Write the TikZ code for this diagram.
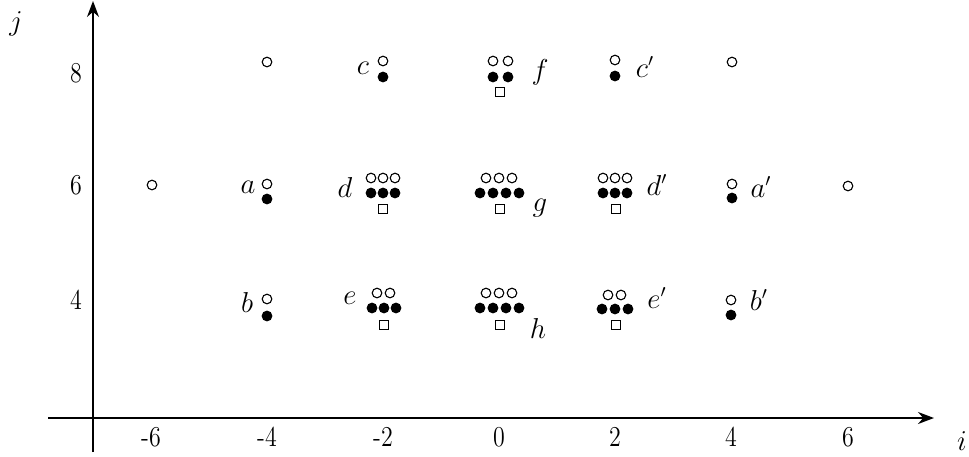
\documentclass[tikz,border=0pt]{standalone}
\usepackage{graphicx}
\usetikzlibrary{arrows.meta}
\newcommand{\tall}[1]{\scalebox{1}[1.2]{#1}}
\begin{document}
\begin{tikzpicture}[x=0.5pt,y=-0.5pt,font=\fontsize{12}{14}\selectfont,
  axis/.style={line width=0.8pt,-{Stealth[length=8pt,width=6pt]}},
  op/.style={circle,draw,line width=0.55pt,inner sep=0pt,minimum size=4.8pt},
  fu/.style={circle,fill,inner sep=0pt,minimum size=5.4pt},
  sq/.style={rectangle,draw,line width=0.55pt,inner sep=0pt,minimum size=4.9pt},
  lab/.style={inner sep=0pt},
  let/.style={inner sep=0pt,font=\fontsize{13.5}{15}\selectfont}]
\useasboundingbox (0,0) rectangle (969,456);
% axes
\coordinate (xs) at (48,418); \coordinate (xe) at (934,418);
\coordinate (ys) at (93,452); \coordinate (ye) at (93,1);
\draw[axis] (xs) -- (xe);
\draw[axis] (ys) -- (ye);
\node[let] (li) at (962,441) {$i$};
\node[let] (lj) at (16,24) {$j$};
% tick labels
\node[lab] (tm6) at (151,437) {\tall{-6}};
\node[lab] (tm4) at (267,437) {\tall{-4}};
\node[lab] (tm2) at (383,437) {\tall{-2}};
\node[lab] (t0) at (499,437) {\tall{0}};
\node[lab] (t2) at (615,437) {\tall{2}};
\node[lab] (t4) at (731,437) {\tall{4}};
\node[lab] (t6) at (848,437) {\tall{6}};
\node[lab] (t8y) at (76,73) {\tall{8}};
\node[lab] (t6y) at (76,185) {\tall{6}};
\node[lab] (t4y) at (76,300) {\tall{4}};
% row 8
\node[op] (s8l) at (267,62) {};
\node[op] (c1) at (383,61) {}; \node[fu] (c2) at (383,77) {};
\node[let] (lc) at (363,68) {$c$};
\node[op] (f1) at (493,61) {}; \node[op] (f2) at (508,61) {};
\node[fu] (f3) at (493,77) {}; \node[fu] (f4) at (508,77) {};
\node[sq] (f5) at (500,92) {};
\node[let] (lf) at (540,72) {$f$};
\node[op] (cp1) at (615,60) {}; \node[fu] (cp2) at (615,76) {};
\node[let] (lcp) at (645,67) {$c'$};
\node[op] (s8r) at (732,62) {};
% row 6
\node[op] (s6l) at (152,185) {};
\node[op] (a1) at (267,184) {}; \node[fu] (a2) at (267,199) {};
\node[let] (la) at (248,187) {$a$};
\node[op] (d1) at (371,178) {}; \node[op] (d2) at (383,178) {}; \node[op] (d3) at (395,178) {};
\node[fu] (d4) at (371,193) {}; \node[fu] (d5) at (383,193) {}; \node[fu] (d6) at (395,193) {};
\node[sq] (d7) at (383,209) {};
\node[let] (ld) at (345,187) {$d$};
\node[op] (g1) at (486,178) {}; \node[op] (g2) at (499,178) {}; \node[op] (g3) at (512,178) {};
\node[fu] (g4) at (480,193) {}; \node[fu] (g5) at (493,193) {}; \node[fu] (g6) at (506,193) {}; \node[fu] (g7) at (519,193) {};
\node[sq] (g8) at (500,209) {};
\node[let] (lg) at (540,208) {$g$};
\node[op] (dp1) at (603,178) {}; \node[op] (dp2) at (615,178) {}; \node[op] (dp3) at (627,178) {};
\node[fu] (dp4) at (603,193) {}; \node[fu] (dp5) at (615,193) {}; \node[fu] (dp6) at (627,193) {};
\node[sq] (dp7) at (616,209) {};
\node[let] (ldp) at (657,185) {$d'$};
\node[op] (ap1) at (732,184) {}; \node[fu] (ap2) at (732,198) {};
\node[let] (lap) at (761,187) {$a'$};
\node[op] (s6r) at (848,186) {};
% row 4
\node[op] (b1) at (267,299) {}; \node[fu] (b2) at (267,316) {};
\node[let] (lb) at (247,302) {$b$};
\node[op] (e1) at (377,293) {}; \node[op] (e2) at (390,293) {};
\node[fu] (e3) at (372,308) {}; \node[fu] (e4) at (384,308) {}; \node[fu] (e5) at (396,308) {};
\node[sq] (e6) at (384,325) {};
\node[let] (le) at (350,298) {$e$};
\node[op] (h1) at (486,293) {}; \node[op] (h2) at (499,293) {}; \node[op] (h3) at (512,293) {};
\node[fu] (h4) at (480,308) {}; \node[fu] (h5) at (493,308) {}; \node[fu] (h6) at (506,308) {}; \node[fu] (h7) at (519,308) {};
\node[sq] (h8) at (500,325) {};
\node[let] (lh) at (538,328) {$h$};
\node[op] (ep1) at (608,295) {}; \node[op] (ep2) at (621,295) {};
\node[fu] (ep3) at (602,309) {}; \node[fu] (ep4) at (615,309) {}; \node[fu] (ep5) at (628,309) {};
\node[sq] (ep6) at (616,325) {};
\node[let] (lep) at (657,298) {$e'$};
\node[op] (bp1) at (731,300) {}; \node[fu] (bp2) at (731,315) {};
\node[let] (lbp) at (759,300) {$b'$};
\end{tikzpicture}
\end{document}
